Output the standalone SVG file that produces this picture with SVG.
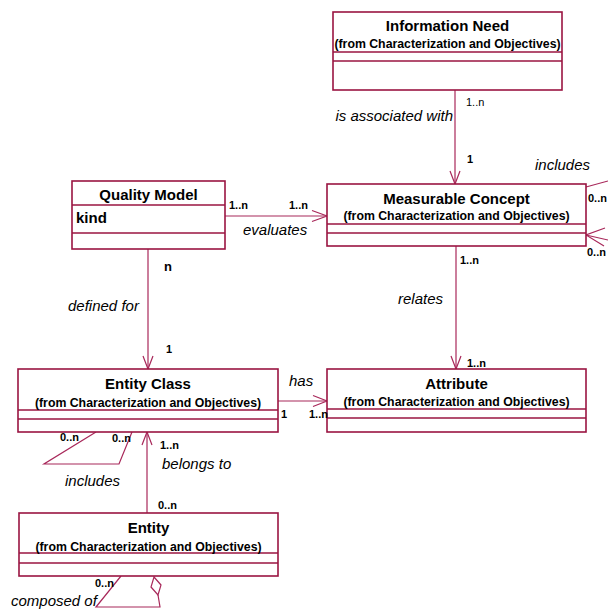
<svg xmlns="http://www.w3.org/2000/svg" width="608" height="612" viewBox="0 0 608 612">
  <style>
    .box { fill: #ffffff; stroke: #9a1441; stroke-width: 1.6; }
    .div { stroke: #9a1441; stroke-width: 1.3; fill: none; }
    .conn { stroke: #a8285a; stroke-width: 1.2; fill: none; }
    .title { font-family: "Liberation Sans", Arial, sans-serif; font-size: 15px; font-weight: bold; text-anchor: middle; fill: #000; }
    .sub { font-family: "Liberation Sans", Arial, sans-serif; font-size: 12.3px; font-weight: bold; text-anchor: middle; fill: #000; }
    .attr { font-family: "Liberation Sans", Arial, sans-serif; font-size: 15px; font-weight: bold; fill: #000; }
    .role { font-family: "Liberation Sans", Arial, sans-serif; font-size: 15px; font-style: italic; fill: #000; }
    .mult { font-family: "Liberation Sans", Arial, sans-serif; font-size: 11px; font-weight: bold; fill: #000; }
    .multr { font-family: "Liberation Sans", Arial, sans-serif; font-size: 11px; fill: #000; }
  </style>
  <rect width="608" height="612" fill="#ffffff"/>

  <!-- associations -->
  <g id="connectors">
    <!-- is associated with -->
    <line class="conn" x1="455" y1="90" x2="455" y2="184"/>
    <polyline class="conn" points="450,171 455,184 460,171"/>
    <!-- includes (Measurable Concept self association) -->
    <line class="conn" x1="586" y1="187" x2="608" y2="181"/>
    <line class="conn" x1="608" y1="240" x2="586" y2="235"/>
    <polyline class="conn" points="605,228 586,235 604,246"/>
    <!-- evaluates -->
    <line class="conn" x1="225" y1="216" x2="327" y2="216"/>
    <polyline class="conn" points="312,210.5 327,216 312,221.5"/>
    <!-- defined for -->
    <line class="conn" x1="148" y1="249" x2="148" y2="369"/>
    <polyline class="conn" points="143,356 148,369 153,356"/>
    <!-- relates -->
    <line class="conn" x1="456" y1="246" x2="456" y2="369"/>
    <polyline class="conn" points="451,356 456,369 461,356"/>
    <!-- has -->
    <line class="conn" x1="278" y1="401" x2="327" y2="401"/>
    <polyline class="conn" points="313,395.5 327,401 313,406.5"/>
    <!-- includes (Entity Class self association) -->
    <polyline class="conn" points="96,432 44,464 119,464 132,432"/>
    <!-- belongs to -->
    <line class="conn" x1="147" y1="513" x2="147" y2="432"/>
    <polyline class="conn" points="142,445 147,432 152,445"/>
    <!-- composed of (aggregation) -->
    <polyline class="conn" points="121,576 96,607 160,607 158,595"/>
    <polygon class="conn" points="154,577 161,585 158,595 151,587"/>
  </g>

  <g id="information-need">
    <rect class="box" x="333" y="12" width="229" height="78"/>
    <line class="div" x1="333" y1="52" x2="562" y2="52"/>
    <line class="div" x1="333" y1="61" x2="562" y2="61"/>
    <text class="title" x="447.5" y="30.5">Information Need</text>
    <text class="sub" x="447.5" y="47.5">(from Characterization and Objectives)</text>
  </g>

  <g id="measurable-concept">
    <rect class="box" x="327" y="184" width="259" height="62"/>
    <line class="div" x1="327" y1="224" x2="586" y2="224"/>
    <line class="div" x1="327" y1="233" x2="586" y2="233"/>
    <text class="title" x="456.5" y="203.5">Measurable Concept</text>
    <text class="sub" x="456.5" y="219.5">(from Characterization and Objectives)</text>
  </g>

  <g id="quality-model">
    <rect class="box" x="72" y="181" width="153" height="68"/>
    <line class="div" x1="72" y1="205" x2="225" y2="205"/>
    <line class="div" x1="72" y1="233" x2="225" y2="233"/>
    <text class="title" x="148.5" y="200">Quality Model</text>
    <text class="attr" x="76" y="223">kind</text>
  </g>

  <g id="entity-class">
    <rect class="box" x="18" y="369" width="260" height="63"/>
    <line class="div" x1="18" y1="410" x2="278" y2="410"/>
    <line class="div" x1="18" y1="419" x2="278" y2="419"/>
    <text class="title" x="148" y="389">Entity Class</text>
    <text class="sub" x="148" y="406.5">(from Characterization and Objectives)</text>
  </g>

  <g id="attribute">
    <rect class="box" x="327" y="369" width="259" height="63"/>
    <line class="div" x1="327" y1="409" x2="586" y2="409"/>
    <line class="div" x1="327" y1="418" x2="586" y2="418"/>
    <text class="title" x="456.5" y="389">Attribute</text>
    <text class="sub" x="456.5" y="406">(from Characterization and Objectives)</text>
  </g>

  <g id="entity">
    <rect class="box" x="19" y="513" width="259" height="63"/>
    <line class="div" x1="19" y1="553" x2="278" y2="553"/>
    <line class="div" x1="19" y1="563" x2="278" y2="563"/>
    <text class="title" x="148.5" y="533">Entity</text>
    <text class="sub" x="148.5" y="550.5">(from Characterization and Objectives)</text>
  </g>

  <!-- role names and multiplicities -->
  <g id="labels">
    <text class="multr" x="466" y="106">1..n</text>
    <text class="role" x="453" y="121" text-anchor="end">is associated with</text>
    <text class="mult" x="467" y="163">1</text>

    <text class="role" x="535" y="170">includes</text>
    <text class="mult" x="588" y="202">0..n</text>
    <text class="mult" x="587" y="256">0..n</text>

    <text class="mult" x="229" y="208.5">1..n</text>
    <text class="mult" x="289" y="208.5">1..n</text>
    <text class="role" x="243" y="235">evaluates</text>

    <text class="attr" x="164" y="271" style="font-size:13px">n</text>
    <text class="role" x="68" y="311">defined for</text>
    <text class="mult" x="166" y="352.5">1</text>

    <text class="mult" x="460" y="263.5">1..n</text>
    <text class="role" x="398" y="304">relates</text>
    <text class="mult" x="467" y="366.5">1..n</text>

    <text class="role" x="289" y="386">has</text>
    <text class="mult" x="281" y="418">1</text>
    <text class="mult" x="309" y="418">1..n</text>

    <text class="mult" x="60" y="441">0..n</text>
    <text class="mult" x="112" y="442">0..n</text>
    <text class="role" x="65" y="486">includes</text>

    <text class="mult" x="160" y="449">1..n</text>
    <text class="role" x="162" y="469">belongs to</text>
    <text class="mult" x="158" y="509">0..n</text>

    <text class="mult" x="95" y="586.5">0..n</text>
    <text class="role" x="11" y="606">composed of</text>
  </g>
</svg>
